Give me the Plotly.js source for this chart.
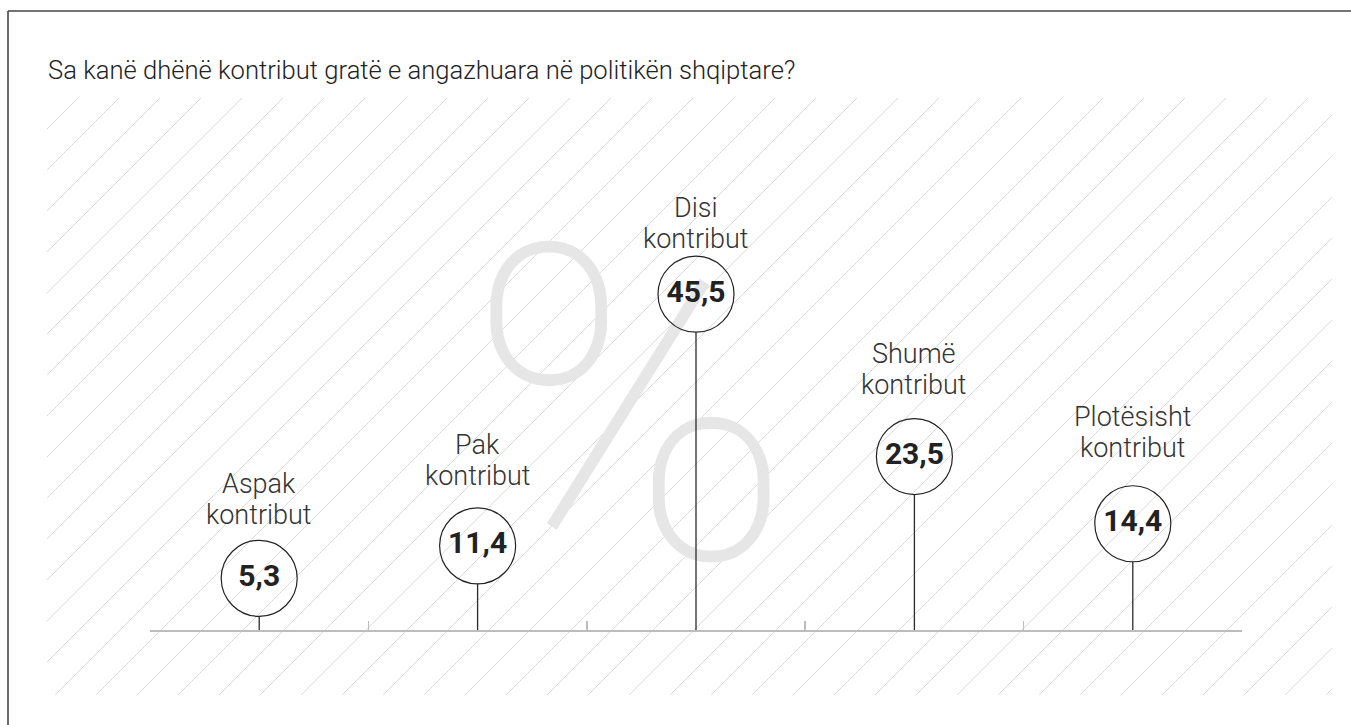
<!DOCTYPE html>
<html>
<head>
<meta charset="utf-8">
<script src="https://cdn.plot.ly/plotly-3.0.1.min.js"></script>
<style>
  html, body { margin: 0; padding: 0; background: #fff; }
  #chart { width: 1351px; height: 725px; }
</style>
</head>
<body>
<div id="chart"></div>
<script>
// ---- data ----
const titleText = "Sa kanë dhënë kontribut gratë e angazhuara në politikën shqiptare?";
const categories = ["Aspak kontribut", "Pak kontribut", "Disi kontribut", "Shumë kontribut", "Plotësisht kontribut"];
const values = [5.3, 11.4, 45.5, 23.5, 14.4];
const unitSymbol = "%";

// ---- layout constants (pixels) ----
const W = 1351, H = 725;
const M = { l: 150, r: 109, t: 98, b: 95 };
const PW = W - M.l - M.r, PH = H - M.t - M.b;
const PX_PER_UNIT = 7.38;
const Y_MAX = PH / PX_PER_UNIT;
const R = 38;                 // circle radius px
const MIN_Y = 7.0;            // keep a visible stem for small values
const labelGap = [55, 62, 47, 64, 68]; // px from circle centre to 2nd-line baseline
const LINE_STEP = 31;

const xPaper = px => (px - M.l) / PW;
const yPaper = py => (H - M.b - py) / PH;
const xData = px => (px - M.l) / PW * 5 - 0.5;
const yData = py => (H - M.b - py) / PX_PER_UNIT;

const idx = categories.map((_, i) => i);
const dispY = values.map(v => Math.max(v, MIN_Y));
const rUnits = R / PX_PER_UNIT;

// stems
const stemX = [], stemY = [];
idx.forEach(i => { stemX.push(i, i, null); stemY.push(0, dispY[i] - rUnits, null); });

const fmt = v => v.toFixed(1).replace('.', ',');

const traces = [
  { // watermark
    x: [xData(630)], y: [yData(448)], mode: 'text', text: [unitSymbol],
    textposition: 'middle center', hoverinfo: 'skip', showlegend: false,
    textfont: { family: 'Roboto', size: 440, weight: 100, color: '#e6e6e6' },
    cliponaxis: false
  },
  {
    x: stemX, y: stemY, mode: 'lines', hoverinfo: 'skip', showlegend: false,
    line: { color: '#2a2a2a', width: 1.3 }
  },
  {
    x: idx, y: dispY, mode: 'markers+text', text: values.map(fmt),
    textposition: 'middle center', showlegend: false, cliponaxis: false,
    marker: { size: 2 * R, color: 'rgba(0,0,0,0)', line: { color: '#222', width: 1.2 } },
    textfont: { family: 'Roboto', size: 30, weight: 700, color: '#222' }
  }
];

// hatch lines
const shapes = [];
const HX0 = 47, HX1 = 1332, HY0 = 98, HY1 = 695;
for (let c = 750 - 41 * 20; c <= HX1 + HY1; c += 41) {
  if (c < HX0 + HY0) continue;
  const xa = Math.max(HX0, c - HY1), xb = Math.min(HX1, c - HY0);
  if (xb <= xa) continue;
  shapes.push({
    type: 'line', xref: 'paper', yref: 'paper', layer: 'below',
    x0: xPaper(xa), y0: yPaper(c - xa), x1: xPaper(xb), y1: yPaper(c - xb),
    line: { color: '#dcdcdc', width: 1 }
  });
}
// frame
shapes.push({ type: 'line', xref: 'paper', yref: 'paper', x0: xPaper(8), y0: yPaper(11), x1: xPaper(1360), y1: yPaper(11), line: { color: '#444', width: 1.6 } });
shapes.push({ type: 'line', xref: 'paper', yref: 'paper', x0: xPaper(8), y0: yPaper(11), x1: xPaper(8), y1: yPaper(740), line: { color: '#444', width: 1.6 } });

// labels
const annotations = [];
idx.forEach(i => {
  const parts = categories[i].split(' ');
  const lines = [parts[0], parts.slice(1).join(' ')];
  lines.forEach((t, k) => {
    annotations.push({
      x: i, y: dispY[i], xref: 'x', yref: 'y', text: t, showarrow: false,
      xanchor: 'center', yanchor: 'middle',
      yshift: labelGap[i] + 8 + (1 - k) * LINE_STEP,
      font: { family: 'Roboto', size: 27, weight: 300, color: '#333' }
    });
  });
});

const layout = {
  width: W, height: H,
  margin: M,
  paper_bgcolor: 'rgba(0,0,0,0)', plot_bgcolor: 'rgba(0,0,0,0)',
  title: {
    text: titleText, xref: 'container', yref: 'container',
    x: 48 / W, xanchor: 'left', y: 1 - 70 / H, yanchor: 'middle',
    font: { family: 'Roboto', size: 25.6, weight: 300, color: '#222' }
  },
  xaxis: {
    range: [-0.5, 4.5], tickvals: [-0.5, 0.5, 1.5, 2.5, 3.5, 4.5], showticklabels: false,
    ticks: 'inside', ticklen: 9, tickcolor: '#bdbdbd', tickwidth: 1.5,
    showline: true, linecolor: '#bdbdbd', linewidth: 1.5, showgrid: false, zeroline: false, fixedrange: true
  },
  yaxis: { range: [0, Y_MAX], visible: false, fixedrange: true },
  shapes: shapes,
  annotations: annotations,
  showlegend: false
};

Plotly.newPlot('chart', traces, layout, { displayModeBar: false, staticPlot: true });
</script>
</body>
</html>
